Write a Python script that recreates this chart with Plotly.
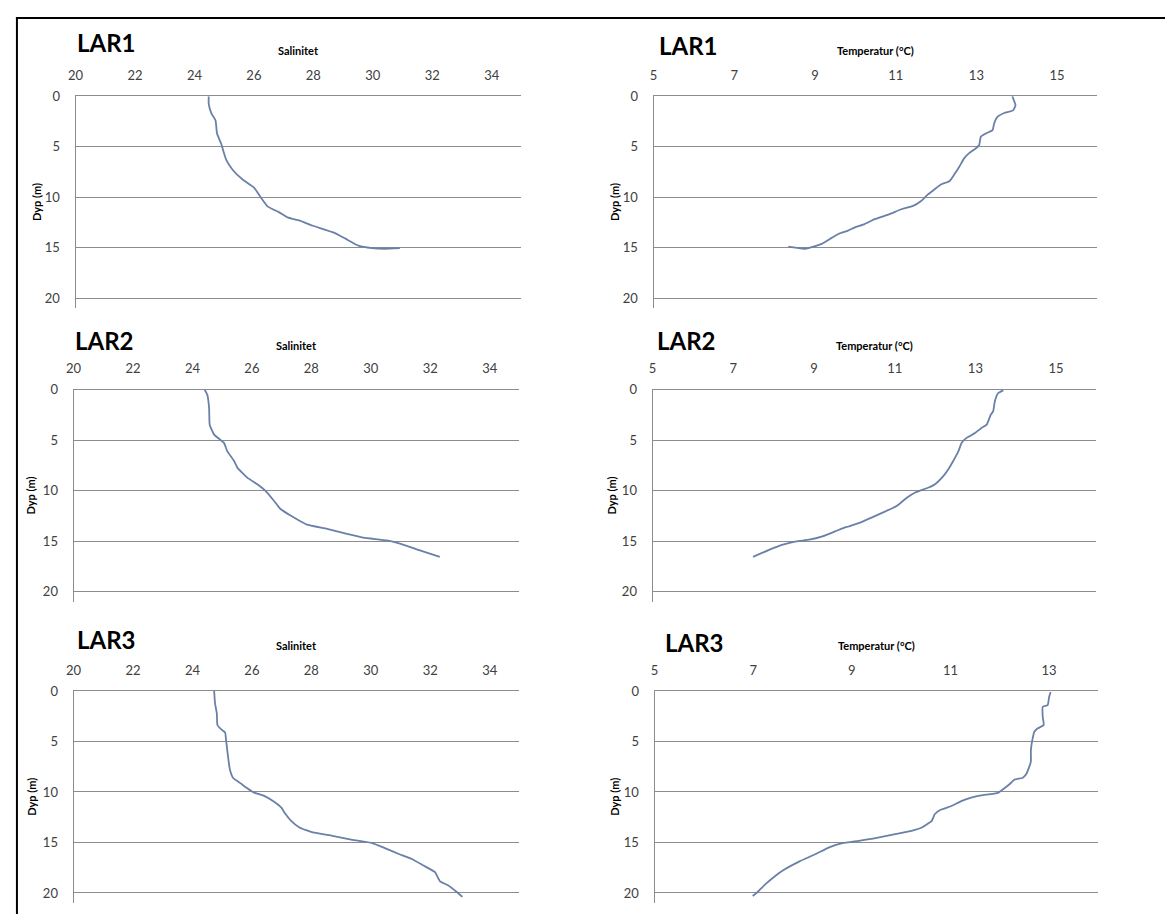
import plotly.graph_objects as go

# ---------------- data ----------------
lar1_sal = [24.48, 24.48, 24.57, 24.71, 24.76, 24.90, 24.96, 25.07, 25.29, 25.62, 26.01, 26.24,
            26.46, 26.85, 27.13, 27.52, 27.96, 28.69, 29.08, 29.52, 29.97, 30.41, 30.91]
lar1_sal_depth = [0.0, 0.75, 1.7, 2.4, 3.7, 4.7, 5.3, 6.3, 7.3, 8.25, 9.07, 10.05,
                  10.9, 11.5, 12.0, 12.3, 12.8, 13.5, 14.1, 14.8, 15.04, 15.1, 15.04]

lar1_temp = [13.89, 13.93, 13.97, 13.91, 13.69, 13.52, 13.44, 13.40, 13.23, 13.11, 13.07, 12.99,
             12.82, 12.70, 12.58, 12.45, 12.33, 12.12, 11.96, 11.80, 11.63, 11.43, 11.14, 10.85,
             10.48, 10.23, 9.99, 9.82, 9.58, 9.37, 9.17, 8.92, 8.76, 8.51, 8.34]
lar1_temp_depth = [0.0, 0.42, 0.9, 1.4, 1.66, 2.05, 2.7, 3.36, 3.7, 4.0, 4.83, 5.15,
                   5.64, 6.13, 6.95, 7.76, 8.42, 8.74, 9.23, 9.72, 10.37, 10.86, 11.19, 11.68,
                   12.17, 12.66, 12.99, 13.31, 13.64, 14.13, 14.62, 14.94, 15.1, 14.98, 14.9]

lar2_sal = [24.41, 24.50, 24.56, 24.58, 24.73, 25.06, 25.17, 25.40, 25.51, 25.84, 26.18, 26.46,
            26.74, 26.96, 27.30, 27.63, 27.85, 28.53, 29.20, 29.75, 30.54, 30.98, 31.65, 32.32]
lar2_sal_depth = [0.0, 0.52, 1.83, 3.47, 4.45, 5.27, 6.09, 7.07, 7.72, 8.71, 9.36, 10.02,
                  11.0, 11.82, 12.47, 13.03, 13.36, 13.78, 14.27, 14.66, 14.93, 15.25, 15.91, 16.56]

lar2_temp = [13.69, 13.56, 13.48, 13.44, 13.38, 13.28, 13.15, 12.99, 12.78, 12.66, 12.58, 12.45,
             12.33, 12.21, 12.00, 11.84, 11.51, 11.31, 11.06, 10.77, 10.44, 10.11, 9.79, 9.54,
             9.21, 8.88, 8.56, 8.23, 7.90, 7.49]
lar2_temp_depth = [0.07, 0.36, 1.18, 2.16, 2.49, 3.47, 3.80, 4.29, 4.78, 5.27, 6.09, 7.07,
                   7.89, 8.54, 9.36, 9.69, 10.18, 10.67, 11.49, 12.05, 12.64, 13.22, 13.62, 14.01,
                   14.53, 14.86, 15.02, 15.35, 15.84, 16.56]

lar3_sal = [24.73, 24.76, 24.82, 24.84, 24.99, 25.10, 25.13, 25.17, 25.21, 25.26, 25.37, 25.60,
            25.82, 26.04, 26.43, 26.71, 26.99, 27.10, 27.32, 27.60, 28.05, 28.71, 29.38, 30.05,
            30.49, 30.94, 31.38, 31.77, 32.16, 32.33, 32.61, 32.89, 33.08]
lar3_sal_depth = [0.0, 1.24, 2.23, 3.37, 3.86, 4.12, 4.84, 5.83, 6.81, 7.79, 8.61, 9.10,
                  9.59, 10.02, 10.41, 10.9, 11.55, 12.05, 12.86, 13.52, 14.01, 14.34, 14.73, 15.06,
                  15.58, 16.14, 16.63, 17.28, 17.94, 18.85, 19.25, 19.9, 20.39]

lar3_temp = [13.03, 13.00, 12.97, 12.87, 12.87, 12.89, 12.77, 12.70, 12.66, 12.63, 12.63, 12.60,
             12.53, 12.46, 12.30, 12.19, 12.06, 11.96, 11.62, 11.42, 11.22, 11.02, 10.79, 10.68,
             10.62, 10.42, 10.21, 9.88, 9.48, 9.14, 8.81, 8.54, 8.27, 7.93, 7.60, 7.46,
             7.26, 7.09, 6.99]
lar3_temp_depth = [0.1, 0.59, 1.41, 1.57, 2.55, 3.37, 3.7, 4.03, 4.84, 5.83, 6.97, 7.46,
                   8.28, 8.61, 8.77, 9.26, 9.75, 10.08, 10.34, 10.57, 10.9, 11.39, 11.78, 12.21,
                   12.86, 13.52, 13.85, 14.17, 14.57, 14.83, 15.06, 15.48, 16.14, 16.89, 17.77, 18.26,
                   19.08, 19.9, 20.29]

stations = ["LAR1", "LAR1", "LAR2", "LAR2", "LAR3", "LAR3"]
x_titles = ["Salinitet", "Temperatur (°C)"] * 3
y_title = "Dyp (m)"
sal_ticks = [20, 22, 24, 26, 28, 30, 32, 34]
temp_ticks_a = [5, 7, 9, 11, 13, 15]
temp_ticks_b = [5, 7, 9, 11, 13]
depth_ticks = [0, 5, 10, 15, 20]

# ---------------- layout geometry (pixels) ----------------
W, H = 1165, 914
FONT = "Lato, Calibri, Carlito, sans-serif"
LINE = "#6a80a8"
GRID = "#8c8c8c"

panels = [
    dict(x=lar1_sal, y=lar1_sal_depth, px=(68, 517), py=(89, 303), xr=[20, 35], xt=sal_ticks,
         st=(67, 35), tt=43, yt=28),
    dict(x=lar1_temp, y=lar1_temp_depth, px=(650, 1097), py=(89, 303), xr=[5, 16], xt=temp_ticks_a,
         st=(653, 38), tt=43, yt=610),
    dict(x=lar2_sal, y=lar2_sal_depth, px=(66, 515), py=(385, 599), xr=[20, 35], xt=sal_ticks,
         st=(65, 335), tt=340, yt=23),
    dict(x=lar2_temp, y=lar2_temp_depth, px=(649, 1096), py=(385, 599), xr=[5, 16], xt=temp_ticks_a,
         st=(651, 335), tt=340, yt=608),
    dict(x=lar3_sal, y=lar3_sal_depth, px=(66, 515), py=(689, 903), xr=[20, 35], xt=sal_ticks,
         st=(67, 637), tt=643, yt=23),
    dict(x=lar3_temp, y=lar3_temp_depth, px=(651, 1098), py=(689, 903), xr=[5, 14], xt=temp_ticks_b,
         st=(660, 640), tt=643, yt=610),
]

fig = go.Figure()
annotations = []
layout = {}
for i, p in enumerate(panels, start=1):
    sfx = "" if i == 1 else str(i)
    fig.add_trace(go.Scatter(
        x=p["x"], y=p["y"], mode="lines",
        line=dict(color=LINE, width=1.8, shape="spline", smoothing=0.4),
        xaxis="x" + sfx, yaxis="y" + sfx, showlegend=False, hoverinfo="x+y"))
    x0, x1 = p["px"]
    y0, y1 = p["py"]
    layout["xaxis" + sfx] = dict(
        domain=[x0 / W, x1 / W], anchor="y" + sfx, side="top",
        range=p["xr"], tickvals=p["xt"], showgrid=False, zeroline=False,
        showline=True, linecolor=GRID, linewidth=1, ticks="",
        ticklabelstandoff=10,
        tickfont=dict(family=FONT, size=13, color="#404040"))
    layout["yaxis" + sfx] = dict(
        domain=[1 - y1 / H, 1 - y0 / H], anchor="x" + sfx,
        range=[21, 0], tickvals=depth_ticks, showgrid=True, gridcolor=GRID, gridwidth=1,
        zeroline=False, showline=True, linecolor=GRID, linewidth=1, ticks="",
        ticklabelstandoff=12,
        tickfont=dict(family=FONT, size=13, color="#404040"))
    annotations.append(dict(
        text="<b>" + stations[i - 1] + "</b>", xref="paper", yref="paper",
        x=p["st"][0] / W, y=1 - p["st"][1] / H, xanchor="left", yanchor="middle",
        showarrow=False, font=dict(family=FONT, size=24, color="#000000")))
    annotations.append(dict(
        text="<b>" + x_titles[i - 1] + "</b>", xref="paper", yref="paper",
        x=(x0 + x1) / 2 / W, y=1 - p["tt"] / H, xanchor="center", yanchor="middle",
        showarrow=False, font=dict(family=FONT, size=11, color="#000000")))
    annotations.append(dict(
        text="<b>" + y_title + "</b>", xref="paper", yref="paper",
        x=p["yt"] / W, y=1 - (y0 + y1) / 2 / H, xanchor="center", yanchor="middle",
        textangle=-90, showarrow=False, font=dict(family=FONT, size=11, color="#000000")))

shapes = [
    dict(type="line", xref="paper", yref="paper", x0=8 / W, x1=1.0, y0=1 - 10 / H, y1=1 - 10 / H,
         line=dict(color="#000000", width=2)),
    dict(type="line", xref="paper", yref="paper", x0=9 / W, x1=9 / W, y0=0, y1=1 - 9 / H,
         line=dict(color="#000000", width=2)),
]

fig.update_layout(
    width=W, height=H, margin=dict(l=0, r=0, t=0, b=0),
    paper_bgcolor="white", plot_bgcolor="white",
    annotations=annotations, shapes=shapes, showlegend=False,
    **layout)

fig.write_html("out.html", config={"displayModeBar": False},
               post_script="document.body.style.margin='0';document.body.style.overflow='hidden';")
